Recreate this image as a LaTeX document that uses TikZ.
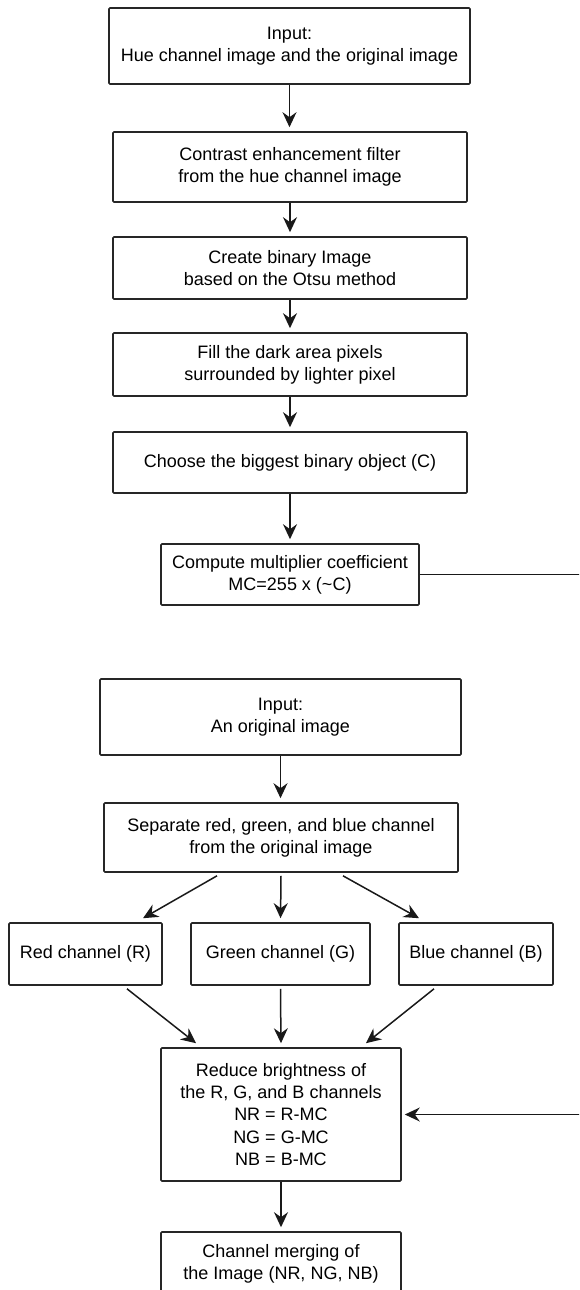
\documentclass[tikz,border=0pt]{standalone}
\usepackage{fontspec}
\setmainfont{Liberation Sans}
\usetikzlibrary{arrows.meta,calc}
\begin{document}
\begin{tikzpicture}[x=1pt,y=-1pt,
  box/.style={draw=black!85,line width=1.6pt,rounded corners=1pt,inner sep=0pt,align=center,
    font=\fontsize{18}{22.3}\selectfont,text=black},
  arr/.style={draw=black!90,line width=1.5pt,-{Stealth[length=15pt,width=14pt,inset=5pt]}},
  ln/.style={draw=black!90,line width=1.5pt}]
\useasboundingbox (0,0) rectangle (579,1290);
\clip (0,0) rectangle (579,1290);
% upper part
\node[box,minimum width=361pt,minimum height=76pt] (b1) at (289.5,46) {Input:\\ Hue channel image and the original image};
\node[box,minimum width=354pt,minimum height=70pt] (b2) at (290,167) {Contrast enhancement filter\\ from the hue channel image};
\node[box,minimum width=354pt,minimum height=62pt] (b3) at (290,268) {Create binary Image\\ based on the Otsu method};
\node[box,minimum width=354pt,minimum height=63pt] (b4) at (290,364.5) {Fill the dark area pixels\\ surrounded by lighter pixel};
\node[box,minimum width=354pt,minimum height=61pt] (b5) at (290,462.5) {Choose the biggest binary object (C)};
\node[box,minimum width=258pt,minimum height=61pt] (b6) at (290,574.5) {Compute multiplier coefficient\\ MC=255 x (\textasciitilde C)};
% lower part
\node[box,minimum width=361pt,minimum height=76pt] (b7) at (280.5,717) {Input:\\ An original image};
\node[box,minimum width=354pt,minimum height=69pt] (b8) at (281,837.5) {Separate red, green, and blue channel\\ from the original image};
\node[box,minimum width=153pt,minimum height=62pt] (red) at (85.5,954) {Red channel (R)};
\node[box,minimum width=179pt,minimum height=62pt] (green) at (280.5,954) {Green channel (G)};
\node[box,minimum width=154pt,minimum height=62pt] (blue) at (476,954) {Blue channel (B)};
\node[box,minimum width=240pt,minimum height=133pt] (b9) at (281,1114.5) {Reduce brightness of\\ the R, G, and B channels\\ NR = R-MC\\ NG = G-MC\\ NB = B-MC};
\node[box,minimum width=240pt,minimum height=64pt] (b10) at (281,1264) {Channel merging of\\ the Image (NR, NG, NB)};
\coordinate (fb) at (600,0);
% connectors
\draw[arr,shorten >=4pt] (b1.south) -- (b1.south |- b2.north);
\draw[arr,shorten >=4pt] (b2.south) -- (b2.south |- b3.north);
\draw[arr,shorten >=4pt] (b3.south) -- (b3.south |- b4.north);
\draw[arr,shorten >=4pt] (b4.south) -- (b4.south |- b5.north);
\draw[arr,shorten >=4pt] (b5.south) -- (b5.south |- b6.north);
\draw[arr,shorten >=4pt] (b7.south) -- (b7.south |- b8.north);
\draw[arr] ($(b8.south)+(-64,3)$) -- ($(red.north)+(57.5,-4)$);
\draw[arr,shorten >=4pt] ($(b8.south)+(0,3)$) -- (green.north);
\draw[arr] ($(b8.south)+(62,3)$) -- ($(blue.north)+(-57,-4)$);
\draw[arr] ($(red.south)+(41.5,3)$) -- ($(b9.north)+(-85,-4)$);
\draw[arr,shorten >=4pt] ($(green.south)+(0,3)$) -- (b9.north);
\draw[arr] ($(blue.south)+(-42,3)$) -- ($(b9.north)+(85,-4)$);
\draw[arr,shorten >=4pt] (b9.south) -- (b10.north);
\draw[arr,shorten >=3pt] (b6.east) -- (b6.east -| fb) |- (b9.east);
\end{tikzpicture}
\end{document}
